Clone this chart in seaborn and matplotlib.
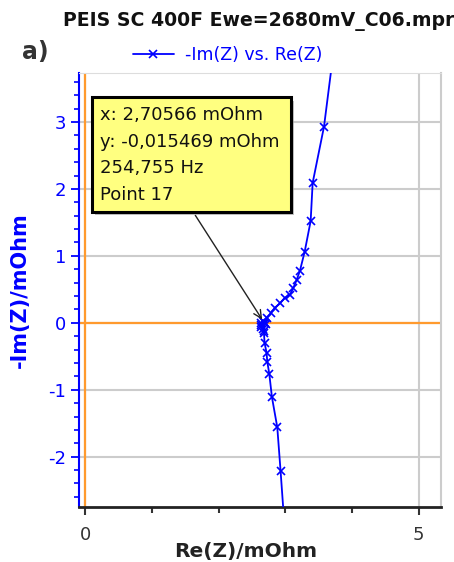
import numpy as np
import pandas as pd
import matplotlib
matplotlib.use("Agg")
import matplotlib.pyplot as plt
import seaborn as sns
from matplotlib.patches import Rectangle
from matplotlib.ticker import MultipleLocator, FixedLocator

# datos (orden: alta frecuencia -> baja frecuencia)
re_z = [3.00, 2.93, 2.88, 2.80, 2.76, 2.73, 2.72, 2.69, 2.68, 2.68, 2.66, 2.64,
        2.63, 2.64, 2.66, 2.68, 2.69, 2.70566, 2.72, 2.78, 2.84, 2.92, 2.99,
        3.07, 3.12, 3.17, 3.22, 3.29, 3.38, 3.41, 3.58, 3.78]
im_z = [-3.20, -2.22, -1.56, -1.11, -0.76, -0.58, -0.45, -0.30, -0.15, -0.12,
        -0.09, -0.06, -0.03, 0.00, 0.02, 0.01, -0.01, -0.015469, 0.07, 0.14,
        0.22, 0.29, 0.37, 0.42, 0.52, 0.64, 0.78, 1.06, 1.52, 2.09, 2.93, 4.50]
point_idx = 17
tip_lines = ["x: 2,70566 mOhm", "y: -0,015469 mOhm", "254,755 Hz", "Point 17"]

df = pd.DataFrame({"Re": re_z, "Im": im_z})

sns.set_style("white")
plt.rcParams['font.family'] = ['DejaVu Sans']
plt.rcParams['axes.unicode_minus'] = False

fig = plt.figure(figsize=(4.54, 5.62), dpi=100)
ax = fig.add_axes([0.174, 0.098, 0.797, 0.772])

blue = "#0000ff"
orange = "#ff9a2e"

ax.axvline(0, color=orange, lw=1.6, zorder=1)
ax.axhline(0, color=orange, lw=1.6, zorder=1)

sns.lineplot(data=df, x="Re", y="Im", sort=False, estimator=None, color=blue,
             marker="x", markersize=5.5, markeredgewidth=1.2, markeredgecolor=blue,
             lw=1.3, label="-Im(Z) vs. Re(Z)", ax=ax, zorder=3)

ax.set_xlim(-0.09, 5.33)
ax.set_ylim(-2.75, 3.73)

# ejes
ax.xaxis.set_major_locator(FixedLocator([0, 5]))
ax.xaxis.set_minor_locator(FixedLocator([1, 2, 3, 4]))
ax.yaxis.set_major_locator(MultipleLocator(1))
ax.yaxis.set_minor_locator(MultipleLocator(0.2))
ax.set_xticklabels(["0", "5"])
ax.tick_params(axis="x", which="major", length=6, width=1.5, color="#333333",
               labelcolor="#333333", labelsize=13, pad=8, direction="out")
ax.tick_params(axis="x", which="minor", length=4, width=1.5, color="#333333",
               direction="out")
ax.tick_params(axis="y", which="major", length=6, width=1.3, color=blue,
               labelcolor=blue, labelsize=13, pad=3, direction="out")
ax.tick_params(axis="y", which="minor", length=3.5, width=1.2, color=blue,
               direction="out")
ax.tick_params(left=True, bottom=True, which="both")

ax.grid(True, which="major", color="#cccccc", lw=1.5, zorder=0)
ax.spines["left"].set_color(blue)
ax.spines["left"].set_linewidth(1.5)
ax.spines["bottom"].set_color("#222222")
ax.spines["bottom"].set_linewidth(2)
ax.spines["top"].set_color("#dddddd")
ax.spines["right"].set_color("#cccccc")
ax.spines["right"].set_linewidth(1.5)

ax.set_xlabel("Re(Z)/mOhm", fontsize=14.5, fontweight="bold", color="#222222")
ax.xaxis.set_label_coords(0.46, -0.08)
ax.set_ylabel("-Im(Z)/mOhm", fontsize=15, fontweight="bold", color=blue)
ax.yaxis.set_label_coords(-0.135, 0.5)

leg = ax.legend(loc="lower center", bbox_to_anchor=(0.41, 1.005), frameon=False,
                fontsize=12.5, handlelength=2.4, handletextpad=0.6,
                borderaxespad=0)
for t in leg.get_texts():
    t.set_color(blue)

fig.text(0.139, 0.979, "PEIS SC 400F Ewe=2680mV_C06.mpr", fontsize=13.6,
         fontweight="bold", ha="left", va="top", color="#111111")
fig.text(0.048, 0.907, "a)", fontsize=17, fontweight="bold", ha="left",
         va="center", color="#333333")

# cuadro de informacion (tooltip)
bx0, by0, bw, bh = 0.10, 1.66, 2.98, 1.71
shadow = Rectangle((bx0 + 0.05, by0 - 0.05), bw, bh, facecolor="#999999",
                   edgecolor="none", zorder=5, alpha=0.6)
ax.add_patch(shadow)
box = Rectangle((bx0, by0), bw, bh, facecolor="#ffff80", edgecolor="black",
                lw=2.2, zorder=6)
ax.add_patch(box)
for i, line in enumerate(tip_lines):
    t = ax.text(bx0 + 0.12, by0 + bh - 0.27 - i * 0.395, line, fontsize=13,
                color="#111111", va="center", ha="left", zorder=7)
    t.set_clip_path(box)

ax.annotate("", xy=(re_z[point_idx] - 0.03, im_z[point_idx] + 0.03),
            xytext=(1.63, by0 - 0.02),
            arrowprops=dict(arrowstyle="->", color="#222222", lw=1,
                            mutation_scale=14), zorder=4)

plt.savefig("out.png", dpi=100)
